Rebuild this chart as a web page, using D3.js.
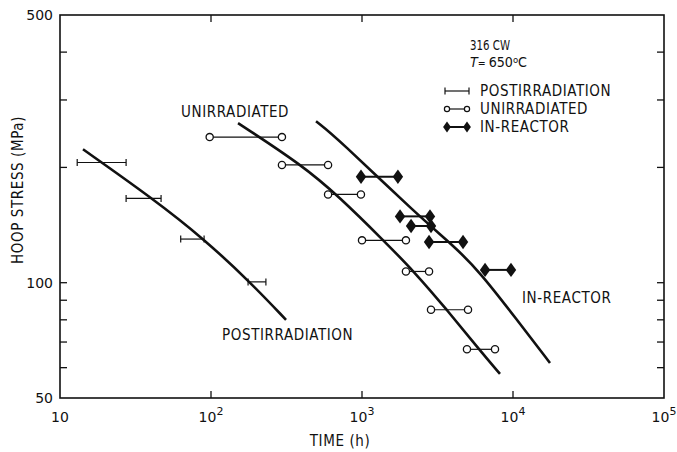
<!DOCTYPE html>
<html>
<head>
<meta charset="utf-8">
<script src="https://cdn.jsdelivr.net/npm/d3@7"></script>
<style>
  body { margin: 0; background: #fff; }
  svg text { fill: #111; }
  .lab { font-family: "Liberation Sans Narrow", "DejaVu Sans Condensed", sans-serif; font-size: 15px; letter-spacing: 0.6px; }
  .num { font-family: "DejaVu Sans", sans-serif; font-size: 14px; }
</style>
</head>
<body>
<div id="chart"></div>
<script>
// fitted curves (time h, stress MPa)
var postCurveT = [14.2, 41, 90, 181, 314];
var postCurveS = [223, 166, 130, 100.5, 80];
var unirrCurveT = [151, 400, 714, 1400, 2210, 3650, 5960, 8200];
var unirrCurveS = [261, 203, 167, 128.5, 107, 85, 67, 57.8];
var reactCurveT = [496, 683, 2380, 3944, 6040, 10620, 17580];
var reactCurveS = [264, 239, 149, 126, 106.7, 80, 61.7];

// postirradiation: interval bars
var postS = [206, 166, 130, 100.5];
var postLo = [13, 27.4, 63, 176];
var postHi = [27.4, 46.7, 90, 231];

// unirradiated: open circle pairs
var unirrS = [240, 203, 170, 129, 107, 85, 67];
var unirrLo = [98, 295, 596, 1000, 1954, 2864, 4956];
var unirrHi = [295, 596, 984, 1954, 2780, 5036, 7600];

// in-reactor: filled diamond pairs
var reactS = [189, 149, 140.6, 127.7, 108];
var reactLo = [985, 1786, 2113, 2780, 6530];
var reactHi = [1729, 2820, 2864, 4667, 9700];

var xTicks = [10, 100, 1000, 10000, 100000];
var xTickExp = ["", "2", "3", "4", "5"];
var yLabelTicks = [50, 100, 500];
var yMinorTicks = [60, 70, 80, 90, 100, 200, 300, 400];

var W = 677, H = 452;
var margin = {top: 15, right: 13, bottom: 54, left: 60};

var svg = d3.select("#chart").append("svg")
    .attr("width", W).attr("height", H);

var x = d3.scaleLog().domain([10, 100000]).range([margin.left, W - margin.right]);
var y = d3.scaleLog().domain([50, 500]).range([H - margin.bottom, margin.top]);

var x0 = x.range()[0], x1 = x.range()[1];
var y0 = y.range()[0], y1 = y.range()[1];

// frame
svg.append("rect")
    .attr("x", x0).attr("y", y1)
    .attr("width", x1 - x0).attr("height", y0 - y1)
    .attr("fill", "none").attr("stroke", "#111").attr("stroke-width", 1.6);

var tickLen = 7;
var g = svg.append("g").attr("stroke", "#111").attr("stroke-width", 1.3);

// x ticks, bottom and top (inward)
xTicks.slice(1, -1).forEach(function(t) {
  g.append("line").attr("x1", x(t)).attr("x2", x(t)).attr("y1", y0).attr("y2", y0 - tickLen);
  g.append("line").attr("x1", x(t)).attr("x2", x(t)).attr("y1", y1).attr("y2", y1 + tickLen);
});
// y ticks, left and right (inward)
yMinorTicks.forEach(function(s) {
  g.append("line").attr("x1", x0).attr("x2", x0 + tickLen).attr("y1", y(s)).attr("y2", y(s));
  g.append("line").attr("x1", x1).attr("x2", x1 - tickLen).attr("y1", y(s)).attr("y2", y(s));
});

// x tick labels
xTicks.forEach(function(t, i) {
  var tx = svg.append("text").attr("class", "num")
      .attr("x", x(t)).attr("y", y0 + 24)
      .attr("text-anchor", "middle");
  tx.append("tspan").text("10");
  if (xTickExp[i]) tx.append("tspan").attr("dy", -7).style("font-size", "11px").text(xTickExp[i]);
});
// y tick labels
yLabelTicks.forEach(function(s) {
  svg.append("text").attr("class", "num")
      .attr("x", x0 - 7).attr("y", y(s) + 5)
      .attr("text-anchor", "end").text(s);
});

// axis titles
svg.append("text").attr("class", "lab")
    .attr("x", (x0 + x1) / 2 - 22).attr("y", 446)
    .attr("text-anchor", "middle").text("TIME (h)");
svg.append("text").attr("class", "lab")
    .attr("transform", "translate(23," + 190 + ") rotate(-90)")
    .attr("text-anchor", "middle").text("HOOP STRESS (MPa)");

// curves
var line = d3.line().curve(d3.curveBasis)
    .x(function(d) { return x(d[0]); })
    .y(function(d) { return y(d[1]); });

[[postCurveT, postCurveS], [unirrCurveT, unirrCurveS], [reactCurveT, reactCurveS]].forEach(function(c) {
  svg.append("path")
      .datum(d3.zip(c[0], c[1]))
      .attr("d", line)
      .attr("fill", "none").attr("stroke", "#111").attr("stroke-width", 2.6);
});

// postirradiation intervals
var post = svg.append("g").attr("stroke", "#111").attr("stroke-width", 1.2);
postS.forEach(function(s, i) {
  var yy = y(s);
  post.append("line").attr("x1", x(postLo[i])).attr("x2", x(postHi[i])).attr("y1", yy).attr("y2", yy);
  [postLo[i], postHi[i]].forEach(function(t) {
    post.append("line").attr("x1", x(t)).attr("x2", x(t)).attr("y1", yy - 3.5).attr("y2", yy + 3.5);
  });
});

// unirradiated pairs
var un = svg.append("g");
unirrS.forEach(function(s, i) {
  var yy = y(s);
  un.append("line").attr("x1", x(unirrLo[i])).attr("x2", x(unirrHi[i]))
      .attr("y1", yy).attr("y2", yy).attr("stroke", "#111").attr("stroke-width", 1.2);
  [unirrLo[i], unirrHi[i]].forEach(function(t) {
    un.append("circle").attr("cx", x(t)).attr("cy", yy).attr("r", 3.6)
        .attr("fill", "#fff").attr("stroke", "#111").attr("stroke-width", 1.3);
  });
});

// in-reactor pairs
var diamond = d3.symbol().type(d3.symbolDiamond).size(60);
var re = svg.append("g");
reactS.forEach(function(s, i) {
  var yy = y(s);
  re.append("line").attr("x1", x(reactLo[i])).attr("x2", x(reactHi[i]))
      .attr("y1", yy).attr("y2", yy).attr("stroke", "#111").attr("stroke-width", 2);
  [reactLo[i], reactHi[i]].forEach(function(t) {
    re.append("path").attr("d", diamond)
        .attr("transform", "translate(" + x(t) + "," + yy + ") scale(1.25,1)")
        .attr("fill", "#111");
  });
});

// curve labels
svg.append("text").attr("class", "lab").attr("x", 181).attr("y", 117).text("UNIRRADIATED");
svg.append("text").attr("class", "lab").attr("x", 222).attr("y", 340).text("POSTIRRADIATION");
svg.append("text").attr("class", "lab").attr("x", 522).attr("y", 303).text("IN-REACTOR");

// annotation
svg.append("text").attr("class", "lab").style("font-size", "13.5px").style("letter-spacing", "0px")
    .attr("x", 470).attr("y", 50)
    .attr("textLength", 40).attr("lengthAdjust", "spacingAndGlyphs").text("316 CW");
var tt = svg.append("text").attr("class", "lab").style("font-size", "13.5px").style("letter-spacing", "0px")
    .attr("x", 470).attr("y", 67)
    .attr("textLength", 57).attr("lengthAdjust", "spacingAndGlyphs");
tt.append("tspan").style("font-style", "italic").text("T");
tt.append("tspan").style("font-size", "10px").text("= ");
tt.append("tspan").text("650");
tt.append("tspan").attr("dy", -4).style("font-size", "9px").text("o");
tt.append("tspan").attr("dy", 4).text("C");

// legend
var legY = [91, 109, 127];
var lg = svg.append("g");
var lx0 = 445, lx1 = 469;
// postirradiation
lg.append("line").attr("x1", lx0).attr("x2", lx1).attr("y1", legY[0]).attr("y2", legY[0]).attr("stroke", "#111").attr("stroke-width", 1.2);
[lx0, lx1].forEach(function(px) {
  lg.append("line").attr("x1", px).attr("x2", px).attr("y1", legY[0] - 3.5).attr("y2", legY[0] + 3.5).attr("stroke", "#111").attr("stroke-width", 1.2);
});
// unirradiated
lg.append("line").attr("x1", lx0 + 2).attr("x2", lx1 - 2).attr("y1", legY[1]).attr("y2", legY[1]).attr("stroke", "#111").attr("stroke-width", 1.2);
[lx0 + 2, lx1 - 2].forEach(function(px) {
  lg.append("circle").attr("cx", px).attr("cy", legY[1]).attr("r", 2.6).attr("fill", "#fff").attr("stroke", "#111").attr("stroke-width", 1.2);
});
// in-reactor
lg.append("line").attr("x1", lx0 + 2).attr("x2", lx1 - 2).attr("y1", legY[2]).attr("y2", legY[2]).attr("stroke", "#111").attr("stroke-width", 2);
[lx0 + 2, lx1 - 2].forEach(function(px) {
  lg.append("path").attr("d", d3.symbol().type(d3.symbolDiamond).size(34))
      .attr("transform", "translate(" + px + "," + legY[2] + ") scale(1.25,1)").attr("fill", "#111");
});
["POSTIRRADIATION", "UNIRRADIATED", "IN-REACTOR"].forEach(function(t, i) {
  lg.append("text").attr("class", "lab").attr("x", 480).attr("y", legY[i] + 5).text(t);
});
</script>
</body>
</html>
